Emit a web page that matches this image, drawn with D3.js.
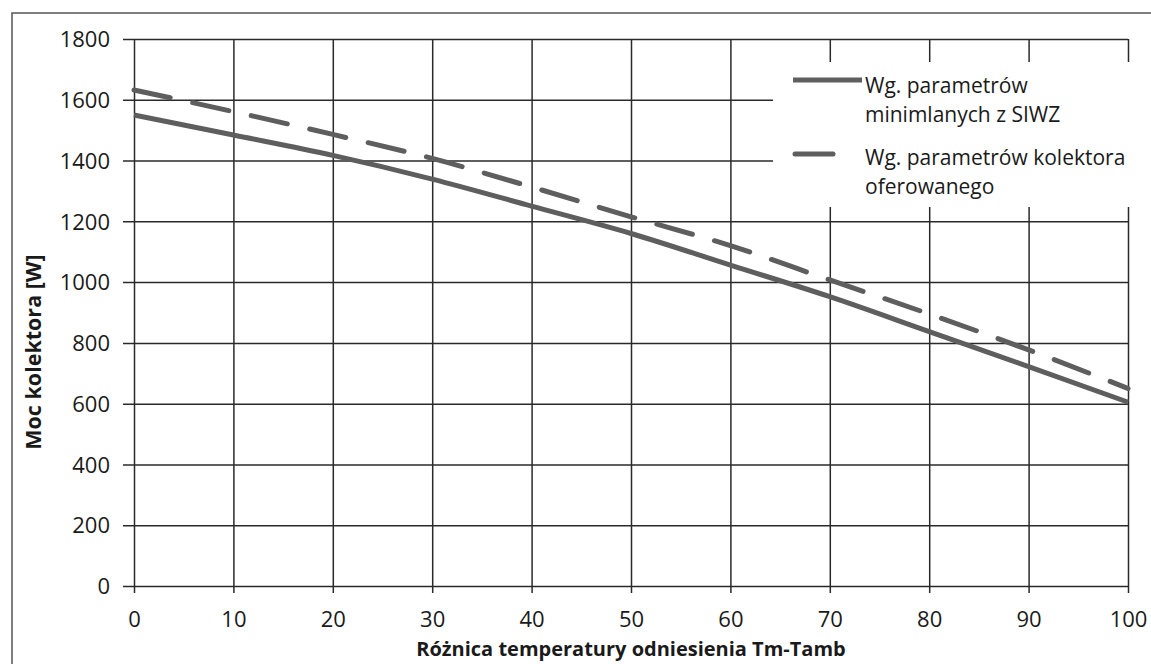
<!DOCTYPE html>
<html>
<head>
<meta charset="utf-8">
<script src="https://cdn.jsdelivr.net/npm/d3@7"></script>
<style>
  body { margin: 0; background: #fff; }
  text { font-family: "Open Sans", "Noto Sans", sans-serif; fill: #1a1a1a; }
</style>
</head>
<body>
<div id="chart"></div>
<script>
// data
var tempDiff = [0, 10, 20, 30, 40, 50, 60, 70, 80, 90, 100];
var minSIWZ = [1550, 1484, 1417, 1339, 1250, 1160, 1056, 952, 837, 722, 605];
var offered = [1632, 1561, 1486, 1407, 1313, 1215, 1120, 1007, 895, 777, 650];
var yTicks = [0, 200, 400, 600, 800, 1000, 1200, 1400, 1600, 1800];
var xTicks = [0, 10, 20, 30, 40, 50, 60, 70, 80, 90, 100];
var seriesNames = [["Wg. parametrów", "minimlanych z SIWZ"], ["Wg. parametrów kolektora", "oferowanego"]];

var W = 1151, H = 664;
var margin = {top: 39, right: 23, bottom: 78, left: 134};
var width = W - margin.left - margin.right,
    height = H - margin.top - margin.bottom;

var svg = d3.select("#chart")
  .append("svg")
  .attr("width", W)
  .attr("height", H);

// outer chart frame
svg.append("path")
  .attr("d", "M12," + H + "V13H" + W)
  .attr("fill", "none")
  .attr("stroke", "#555")
  .attr("stroke-width", 1.5);

var g = svg.append("g").attr("transform", "translate(" + margin.left + "," + margin.top + ")");

var x = d3.scaleLinear().domain([0, 100]).range([0, width]);
var y = d3.scaleLinear().domain([0, 1800]).range([height, 0]);

// horizontal grid + y ticks
g.append("g")
  .call(d3.axisLeft(y).tickValues(yTicks).tickFormat(d3.format("d")).tickSize(0))
  .call(function(a) {
    a.attr("font-size", null).attr("font-family", null);
    a.select(".domain").remove();
    a.selectAll("line").attr("stroke", "#2a2a2a").attr("stroke-width", 1.5)
      .attr("x1", -11).attr("x2", width);
    a.selectAll("text").style("font-size", "22px").style("fill", "#1a1a1a")
      .attr("x", -24).attr("dy", "0.35em");
  });

// vertical grid + x ticks
g.append("g")
  .attr("transform", "translate(0," + height + ")")
  .call(d3.axisBottom(x).tickValues(xTicks).tickSize(0).tickPadding(33))
  .call(function(a) {
    a.attr("font-size", null).attr("font-family", null);
    a.select(".domain").remove();
    a.selectAll("line").attr("stroke", "#2a2a2a").attr("stroke-width", 1.5)
      .attr("y1", 7).attr("y2", -height);
    a.selectAll("text").style("font-size", "22px").style("fill", "#1a1a1a").attr("dy", "0.35em");
  });

// series lines
var line = d3.line()
  .x(function(d, i) { return x(tempDiff[i]); })
  .y(function(d) { return y(d); })
  .curve(d3.curveMonotoneX);

g.append("path")
  .datum(minSIWZ)
  .attr("d", line)
  .attr("fill", "none")
  .attr("stroke", "#5e5e5e")
  .attr("stroke-width", 5);

g.append("path")
  .datum(offered)
  .attr("d", line)
  .attr("fill", "none")
  .attr("stroke", "#5e5e5e")
  .attr("stroke-width", 5)
  .attr("stroke-linecap", "round")
  .attr("stroke-dasharray", "37,23");

// legend (white box over grid)
var lg = svg.append("g").attr("transform", "translate(773,62)");
lg.append("rect").attr("width", 375).attr("height", 145).attr("fill", "#fff");

lg.append("line").attr("x1", 20).attr("x2", 89).attr("y1", 18).attr("y2", 18)
  .attr("stroke", "#5e5e5e").attr("stroke-width", 5);
lg.append("line").attr("x1", 22).attr("x2", 89).attr("y1", 92).attr("y2", 92)
  .attr("stroke", "#5e5e5e").attr("stroke-width", 5).attr("stroke-linecap", "round")
  .attr("stroke-dasharray", "38,44");

[31, 103].forEach(function(base, k) {
  var t = lg.append("text").style("font-size", "21px").attr("y", base);
  t.append("tspan").attr("x", 92).text(seriesNames[k][0]);
  t.append("tspan").attr("x", 92).attr("dy", 28.6).text(seriesNames[k][1]);
});

// axis titles
svg.append("text")
  .style("font-weight", "bold").style("font-size", "21.5px")
  .attr("transform", "translate(41,352) rotate(-90)")
  .attr("text-anchor", "middle")
  .text("Moc kolektora [W]");

svg.append("text")
  .style("font-weight", "bold").style("font-size", "20px")
  .attr("x", margin.left + width / 2)
  .attr("y", 656)
  .attr("text-anchor", "middle")
  .text("Różnica temperatury odniesienia Tm-Tamb");
</script>
</body>
</html>
